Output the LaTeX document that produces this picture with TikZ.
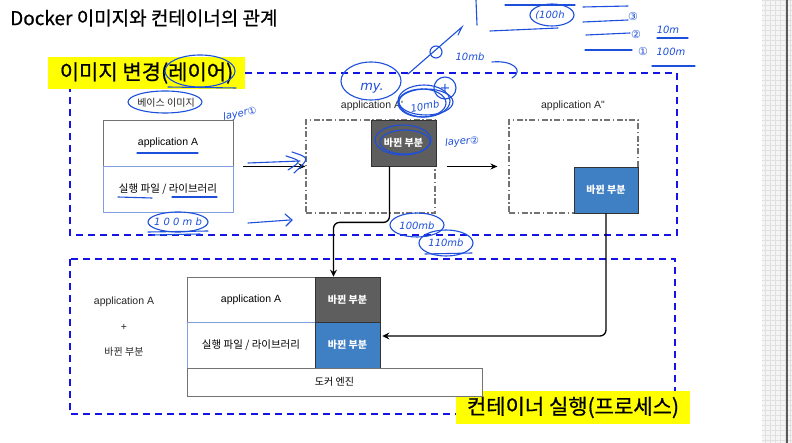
\documentclass[tikz,border=0pt]{standalone}
\usepackage{fontspec}
\setmainfont{Liberation Sans}
\newfontfamily\kr{Noto Sans CJK KR}
\newfontfamily\krm{Noto Sans CJK KR}[FakeBold=0.6]
\newfontfamily\hand{DejaVu Sans}
\usetikzlibrary{arrows.meta, positioning, calc}
\definecolor{zoneblue}{HTML}{1414E6}
\definecolor{inkblue}{HTML}{1C4FDB}
\definecolor{chgdark}{HTML}{5E5E5E}
\definecolor{chgblue}{HTML}{3F7FC4}
\definecolor{libline}{HTML}{7F9FE0}
\definecolor{markyellow}{HTML}{FFFF00}

\begin{document}
\begin{tikzpicture}[x=1pt,y=-1pt]
\tikzset{
  zone/.style={draw=zoneblue,line width=1.8pt,dash pattern=on 7pt off 5pt},
  tag/.style={rectangle,fill=markyellow,inner sep=0pt,font=\krm\fontsize{21}{24}\selectfont},
  cell/.style={rectangle,draw=black!55,fill=white,line width=0.8pt,inner sep=0pt,font=\fontsize{10.5}{12}\selectfont},
  libcell/.style={cell,draw=libline,font=\kr\fontsize{10.5}{12}\selectfont},
  chg/.style={rectangle,draw=black!80,line width=0.8pt,inner sep=0pt,text=white,font=\kr\bfseries\fontsize{10}{12}\selectfont},
  frame/.style={rectangle,draw=black!55,line width=1.1pt,dash pattern=on 6pt off 2.5pt on 1.5pt off 2.5pt,inner sep=0pt},
  lbl/.style={font=\fontsize{10.5}{12}\selectfont,text=black!85,inner sep=0pt},
  ar/.style={-{Stealth[length=7pt,width=6pt]},line width=1.4pt},
  link/.style={-{Stealth[length=7pt,width=7pt,inset=2.5pt]},line width=1.3pt,rounded corners=6pt},
  ink/.style={draw=inkblue,line width=1.1pt,line cap=round},
  inktxt/.style={text=inkblue,font=\hand\itshape\fontsize{10}{12}\selectfont,inner sep=0pt}
}
\fill[white] (0,0) rectangle (792,443);
\useasboundingbox (0,0) rectangle (792,443);
% side panel
\fill[black!4] (762,0) rectangle (792,443);
\draw[black!12,line width=0.4pt,step=5pt] (762,0) grid (792,443);
\draw[black!65,line width=1.5pt] (787,0) -- (787,443);

\node[anchor=west,font=\krm\fontsize{19}{22}\selectfont,inner sep=0pt] (title) at (10,18) {Docker 이미지와 컨테이너의 관계};

\draw[zone] (70,73) rectangle (677,235);
\draw[zone] (70,259) rectangle (675,414);
\node[tag,minimum width=197pt,minimum height=32pt] (imgtag) at (146.5,73) {이미지 변경(레이어)};
\node[tag,minimum width=234pt,minimum height=33pt] (runtag) at (573,407.5) {컨테이너 실행(프로세스)};

% image layers
\node[lbl,font=\kr\fontsize{10}{12}\selectfont] (basettl) at (166,103) {베이스 이미지};
\node[cell,minimum width=130pt,minimum height=46pt] (bapp) at (168,143) {application A};
\node[libcell,minimum width=130pt,minimum height=46pt] (blib) at (168,189) {실행 파일 / 라이브러리};
\node[lbl] (ttlA1) at (372,106) {application A\textquotesingle};
\node[frame,minimum width=129pt,minimum height=93pt] (fA1) at (370.5,166.5) {};
\node[chg,fill=chgdark,minimum width=65pt,minimum height=46pt] (chg1) at (403.5,143) {바뀐 부분};
\node[lbl] (ttlA2) at (573,106) {application A\textquotedbl};
\node[frame,minimum width=129pt,minimum height=93pt] (fA2) at (573.5,166.5) {};
\node[chg,fill=chgblue,minimum width=64pt,minimum height=46pt] (chg2) at (606,190) {바뀐 부분};

% container
\node[lbl] (sumA) at (124,302) {application A};
\node[lbl] (plus) at (124,327) {+};
\node[lbl,font=\kr\fontsize{10}{12}\selectfont] (sumB) at (124,352) {바뀐 부분};
\node[cell,minimum width=128pt,minimum height=45pt] (capp) at (251,299.5) {application A};
\node[libcell,minimum width=128pt,minimum height=46pt] (clib) at (251,345) {실행 파일 / 라이브러리};
\node[chg,fill=chgdark,minimum width=65pt,minimum height=45pt] (cchg1) at (347.5,299.5) {바뀐 부분};
\node[chg,fill=chgblue,minimum width=65pt,minimum height=46pt] (cchg2) at (347.5,345) {바뀐 부분};
\node[cell,font=\kr\fontsize{10}{12}\selectfont,minimum width=295pt,minimum height=28pt] (eng) at (334.5,382) {도커 엔진};

\draw[ar] ([xshift=10pt]bapp.south east) -- (bapp.south east -| fA1.west);
\draw[ar] ([xshift=11pt]fA1.east) -- ([xshift=-11pt]fA2.west);
\draw[link] ([xshift=-14pt]chg1.south) -- ++(0,56) -| ([xshift=-14pt]cchg1.north);
\draw[link] (chg2.south) |- ([yshift=9pt,xshift=2pt]cchg2.east);

% handwriting
\draw[ink] (200,71) ellipse [x radius=35pt,y radius=16pt];
\draw[ink] (168,87) -- (236,88);
\draw[ink] (165,102) ellipse [x radius=37pt,y radius=11pt];
\node[inktxt,rotate=12] (lay1) at (240,114) {layer①};
\draw[ink] (137,153) -- (198,153);
\draw[ink] (118,197) -- (152,198);
\draw[ink] (172,197) -- (217,197);
\draw[ink] (178,222) ellipse [x radius=30pt,y radius=10pt];
\node[inktxt] (mb1) at (178,222) {1 0 0 m b};
\draw[ink] (148,232) -- (208,231);
\draw[ink] (152,235) -- (200,234);
\draw[ink] (248,163) -- (300,161);
\draw[ink] (292,152) .. controls (310,158) .. (294,173);
\draw[ink] (286,156) .. controls (302,161) .. (288,170);
\draw[ink] (248,223) -- (290,220);
\draw[ink] (285,214) -- (292,220) -- (286,226);
\draw[ink] (371,81) ellipse [x radius=30pt,y radius=19pt];
\node[inktxt,font=\hand\itshape\fontsize{13}{15}\selectfont] (my) at (372,88) {my.};
\draw[ink] (408,74) -- (462,27) -- (458,35);
\draw[ink] (436,52) circle [radius=6pt];
\node[inktxt] (mb2) at (470,57) {10mb};
\draw[ink] (492,62) .. controls (512,60) and (525,70) .. (512,78);
\draw[ink] (424,101) ellipse [x radius=26pt,y radius=16pt];
\draw[ink] (422,103) ellipse [x radius=24pt,y radius=14pt];
\draw[ink] (426,102) ellipse [x radius=27pt,y radius=13pt];
\node[inktxt,rotate=10] (mb3) at (425,106) {10mb};
\draw[ink] (445,88) circle [radius=11pt];
\node[inktxt,font=\hand\fontsize{13}{15}\selectfont] (plusink) at (445,88) {+};
\draw[ink] (403,140) ellipse [x radius=28pt,y radius=15pt];
\draw[ink] (405,142) ellipse [x radius=25pt,y radius=12pt];
\node[inktxt,rotate=5] (lay2) at (462,142) {layer②};
\draw[ink] (417,225) ellipse [x radius=27pt,y radius=12pt];
\node[inktxt] (mb4) at (417,226) {100mb};
\draw[ink] (446,243) ellipse [x radius=27pt,y radius=13pt];
\node[inktxt] (mb5) at (446,243) {110mb};
\draw[ink] (425,254) -- (472,253);
% notes at top
\draw[ink] (476,0) -- (477,25);
\draw[ink] (505,5) -- (575,5);
\draw[ink] (552,15) ellipse [x radius=22pt,y radius=11pt];
\node[inktxt] (mb6) at (550,15) {(100h};
\draw[ink] (490,31) -- (558,28);
\draw[ink] (583,7) -- (628,6);
\draw[ink] (583,22) -- (628,20);
\node[inktxt,font=\hand\fontsize{11}{13}\selectfont] (n3) at (633,16) {③};
\draw[ink] (586,35) -- (630,33);
\node[inktxt,font=\hand\fontsize{11}{13}\selectfont] (n2) at (636,34) {②};
\node[inktxt] (m10) at (668,30) {10m};
\draw[ink] (657,38) -- (688,38);
\draw[ink] (585,50) -- (632,50);
\node[inktxt,font=\hand\fontsize{11}{13}\selectfont] (n1) at (643,51) {①};
\node[inktxt] (m100) at (671,52) {100m};
\draw[ink] (652,66) -- (695,66);
\end{tikzpicture}
\end{document}
